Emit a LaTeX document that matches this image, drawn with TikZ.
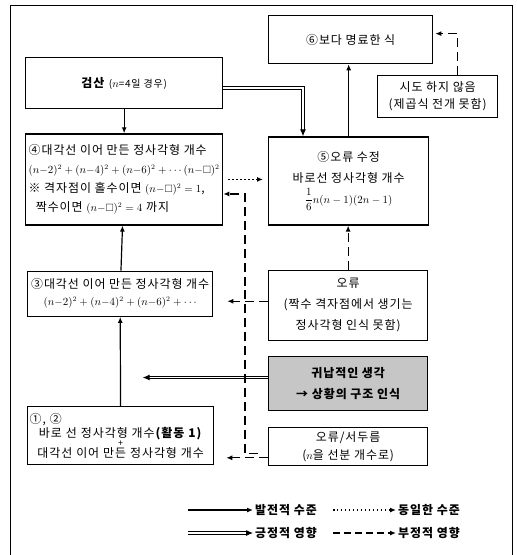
\documentclass[tikz,border=0pt]{standalone}
\usepackage{amssymb}
\usepackage{fontspec}
\setmainfont{Noto Sans CJK KR}[LetterSpace=8]
\usetikzlibrary{arrows.meta,positioning,calc}
\definecolor{thinkgray}{RGB}{198,198,198}
\newcommand{\sq}[1]{(n{-}#1)^2}
\newcommand{\fm}[1]{{\fontsize{10.5}{12}\selectfont$#1$}}

\begin{document}
\begin{tikzpicture}[
    x=1bp, y=-1bp,
    every node/.style={font=\fontsize{12}{19}\selectfont},
    block/.style={rectangle, draw, line width=1.3pt, inner sep=3bp, align=center},
    thinkblock/.style={block, fill=thinkgray},
    legendtext/.style={font=\fontsize{12}{14}\selectfont\bfseries, inner sep=2bp},
    devarrow/.style={-{Latex[length=6pt,width=5pt]}, line width=1.2pt},
    samearrow/.style={devarrow, dash pattern=on 1.5pt off 2.5pt},
    posarrow/.style={-{Latex[length=7pt,width=6pt]}, double, double distance=1.4pt, line width=1pt},
    negarrow/.style={devarrow, dash pattern=on 9pt off 5pt}
]
\useasboundingbox (0,0) rectangle (517,555);

% Frame
\draw[line width=0.8pt] (10,556) -- (10,5) -- (512,5) -- (512,556);

% Left column
\node[block, anchor=north west, minimum width=197bp, minimum height=51bp] (check) at (25,57)
    {\textbf{검산} {\fontsize{10}{12}\selectfont (\fm{n}=4일 경우)}};
\node[block, align=left, minimum width=197bp, minimum height=91bp,
      below=24bp of check.south west, anchor=north west] (step4)
    {④대각선 이어 만든 정사각형 개수\\
     \fm{\sq2+\sq4+\sq6+\cdots\sq\square}\\
     ※ 격자점이 홀수이면 \fm{\sq\square=1},\\
     \hspace*{0.6em}짝수이면 \fm{\sq\square=4} 까지};
\node[block, minimum width=185bp, minimum height=45bp,
      below=45bp of step4.south west, xshift=2bp, anchor=north west,
      font=\fontsize{12}{17}\selectfont] (step3)
    {③대각선 이어 만든 정사각형 개수\\
     \fm{\sq2+\sq4+\sq6+\cdots}};
\node[block, text width=182bp, minimum height=58bp, inner sep=2bp,
      below=89bp of step3.south west, anchor=north west,
      font=\fontsize{12}{14}\selectfont] (step12)
    {\makebox[182bp][l]{①, ②}\\
     바로 선 정사각형 개수\textbf{(활동 1)}\\[-5bp]
     {\small +}\\[-3bp]
     대각선 이어 만든 정사각형 개수};

% Right column
\node[block, anchor=north west, minimum width=164bp, minimum height=48bp] (clear6) at (268,15)
    {⑥보다 명료한 식};
\node[block, anchor=north west, minimum width=120bp, minimum height=42bp,
      font=\fontsize{12}{17}\selectfont] (notry) at (377,75)
    {시도 하지 않음\\(제곱식 전개 못함)};
\node[block, minimum width=160bp, minimum height=88bp,
      below=72bp of clear6.south west, anchor=north west,
      font=\fontsize{12}{21}\selectfont] (fix5)
    {⑤오류 수정\\바로선 정사각형 개수\\\fm{\displaystyle\frac{1}{6}n(n-1)(2n-1)}};
\node[block, minimum width=159bp, minimum height=70bp,
      below=44bp of fix5.south west, anchor=north west,
      font=\fontsize{12}{21}\selectfont] (error1)
    {오류\\(짝수 격자점에서 생기는\\정사각형 인식 못함)};
\node[thinkblock, minimum width=159bp, minimum height=54bp,
      below=15bp of error1.south west, anchor=north west,
      font=\fontsize{12}{21}\selectfont\bfseries] (induct)
    {귀납적인 생각\\→ 상황의 구조 인식};
\node[block, minimum width=159bp, minimum height=38bp,
      below=16bp of induct.south west, anchor=north west,
      font=\fontsize{12}{18}\selectfont] (error2)
    {오류/서두름\\(\fm{n}을 선분 개수로)};

% Developing level
\draw[devarrow] (check) -- (step4);
\draw[devarrow] (step3) -- (step4);
\draw[devarrow] (step12) -- (step3);
\draw[devarrow] (fix5.north) -- (fix5.north |- clear6.south);

% Same level
\draw[samearrow, shorten <=5bp, shorten >=5bp] (step4.east) -- (step4.east -| fix5.west);

% Positive influence
\draw[posarrow] ([yshift=-5bp]check.east) -| ([xshift=35bp]fix5.north west);
\coordinate (hit) at ([yshift=6bp]induct.west -| step12.north);
\draw[posarrow, shorten >=22bp] ([yshift=6bp]induct.west) -- (hit);

% Negative influence
\draw[negarrow, shorten >=2bp] ([xshift=20bp]notry.north) |- ([yshift=6bp]clear6.east);
\draw[negarrow] (error1.north) -- (error1.north |- fix5.south);
\draw[negarrow, shorten >=14bp] ([yshift=4bp]error1.west) -- ([yshift=4bp]error1.west -| step3.east);
\draw[negarrow, shorten >=12bp] ([yshift=-11bp]error2.west) -- ([yshift=-11bp]error2.west -| step12.east);
\draw[negarrow, shorten <=10bp] ([yshift=-7bp]error2.west) -- ++(-23,0) |- ([yshift=-14.5bp]step4.east);

% Legend
\coordinate (lg1) at (188,510);
\coordinate (lg2) at (333,510);
\coordinate (lg3) at (188,533);
\coordinate (lg4) at (333,533);
\node[legendtext, anchor=west] (lgt1) at (253,510) {발전적 수준};
\node[legendtext, anchor=west] (lgt2) at (396,510) {동일한 수준};
\node[legendtext, anchor=west] (lgt3) at (253,533) {긍정적 영향};
\node[legendtext, anchor=west] (lgt4) at (396,533) {부정적 영향};
\draw[devarrow] (lg1) -- (lgt1.west);
\draw[samearrow] (lg2) -- (lgt2.west);
\draw[posarrow] (lg3) -- (lgt3.west);
\draw[negarrow, dash pattern=on 7pt off 4pt] (lg4) -- (lgt4.west);

\end{tikzpicture}
\end{document}
